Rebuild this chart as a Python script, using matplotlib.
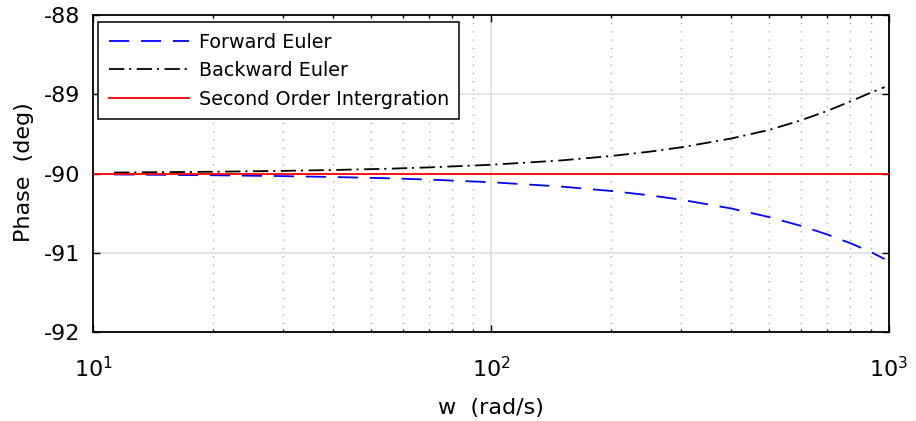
import matplotlib
matplotlib.use("Agg")
import matplotlib.pyplot as plt
from matplotlib.ticker import LogLocator, FixedLocator

plt.rcParams['font.family'] = ['DejaVu Sans']
plt.rcParams['lines.scale_dashes'] = False
plt.rcParams['mathtext.default'] = 'regular'
plt.rcParams['axes.unicode_minus'] = False

# ---- data ----
w = [11.3, 15, 20, 30, 40, 55, 70, 100, 150, 200, 250, 300, 400, 500,
     600, 700, 800, 900, 975]
phase_forward = [-90.012, -90.017, -90.022, -90.033, -90.044, -90.06, -90.077,
                 -90.11, -90.165, -90.22, -90.275, -90.33, -90.44, -90.55,
                 -90.66, -90.77, -90.88, -90.99, -91.08]
phase_backward = [-89.988, -89.983, -89.978, -89.967, -89.956, -89.94, -89.923,
                  -89.89, -89.835, -89.78, -89.725, -89.67, -89.56, -89.45,
                  -89.33, -89.21, -89.09, -88.98, -88.91]
w_second = [10, 1000]
phase_second = [-90, -90]

labels = ['Forward Euler', 'Backward Euler', 'Second Order Intergration']
yticks = [-92, -91, -90, -89, -88]

fig = plt.figure(figsize=(9.16, 4.21), dpi=100)
ax = fig.add_axes([93/916, 1-332/421, (889-93)/916, (332-15)/421])

ax.set_xscale('log')
ax.set_xlim(10, 1000)
ax.set_ylim(-92, -88)

# grid
ax.xaxis.set_minor_locator(LogLocator(base=10, subs=range(2, 10)))
ax.yaxis.set_major_locator(FixedLocator(yticks))
ax.grid(True, which='major', color='#dcdcdc', linewidth=1.1, zorder=0)
ax.grid(True, which='minor', axis='x', color='#a8a8a8', linewidth=1.0,
        linestyle=(0, (1.0, 5.0)), zorder=0)
ax.set_axisbelow(True)

lf, = ax.plot(w, phase_forward, color='#0000ff', linewidth=1.3,
              dashes=(14.5, 8.5), label=labels[0], zorder=3)
lb, = ax.plot(w, phase_backward, color='black', linewidth=1.3,
              dashes=(11, 3.5, 1.5, 4), label=labels[1], zorder=3)
ls, = ax.plot(w_second, phase_second, color='#ff0000', linewidth=1.3,
              label=labels[2], zorder=4)

for s in ax.spines.values():
    s.set_linewidth(1.3)
    s.set_color('black')

ax.tick_params(which='major', direction='in', length=5, width=1.0,
               top=True, right=True, labelsize=16, pad=9, colors='black')
ax.tick_params(which='minor', direction='in', length=2.5, width=1.0,
               top=True, right=True)
ax.tick_params(axis='x', which='major', pad=17.5)
ax.tick_params(axis='y', which='minor', left=False, right=False)

ax.set_xlabel('w  (rad/s)', fontsize=16, labelpad=12)
ax.set_ylabel('Phase  (deg)', fontsize=16)
ax.yaxis.set_label_coords((34 - 93) / 796, 0.505)

leg = ax.legend(handles=[lf, lb, ls], loc='upper left',
                bbox_to_anchor=(5/796, 1-7/317), fontsize=13.8,
                frameon=True, fancybox=False, framealpha=1, edgecolor='black',
                handlelength=4.2, handletextpad=0.5, labelspacing=0.5,
                borderpad=0.55, borderaxespad=0.0)
leg.get_frame().set_linewidth(1.1)

fig.savefig('out.png', dpi=100)
